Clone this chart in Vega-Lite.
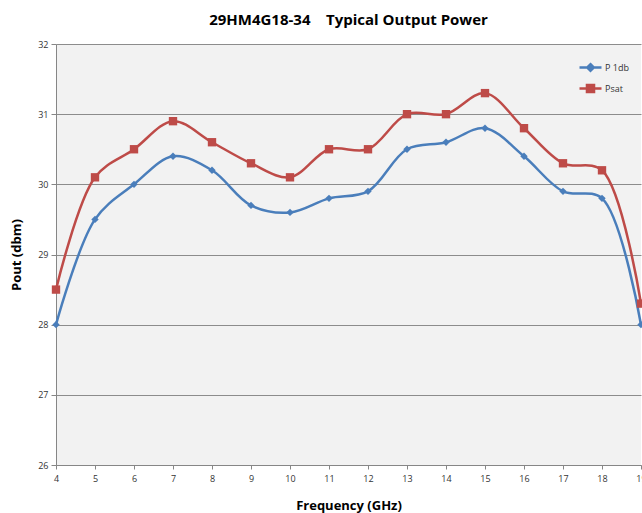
{
  "$schema": "https://vega.github.io/schema/vega-lite/v6.json",
  "autosize": "none",
  "width": 585,
  "height": 421,
  "padding": {"left": 56, "top": 44, "right": 1, "bottom": 48},
  "background": "white",
  "config": {
    "view": {"fill": "#F2F2F2", "stroke": null},
    "font": "Open Sans"
  },
  "title": {
    "text": "29HM4G18-34\u00a0\u00a0\u00a0\u00a0Typical Output Power",
    "font": "Open Sans",
    "fontSize": 15,
    "fontWeight": "bold",
    "color": "#000000",
    "anchor": "middle",
    "offset": 12
  },
  "data": {
    "values": [
      {"f": 4, "v": 28.0, "s": "P 1db"},
      {"f": 5, "v": 29.5, "s": "P 1db"},
      {"f": 6, "v": 30.0, "s": "P 1db"},
      {"f": 7, "v": 30.4, "s": "P 1db"},
      {"f": 8, "v": 30.2, "s": "P 1db"},
      {"f": 9, "v": 29.7, "s": "P 1db"},
      {"f": 10, "v": 29.6, "s": "P 1db"},
      {"f": 11, "v": 29.8, "s": "P 1db"},
      {"f": 12, "v": 29.9, "s": "P 1db"},
      {"f": 13, "v": 30.5, "s": "P 1db"},
      {"f": 14, "v": 30.6, "s": "P 1db"},
      {"f": 15, "v": 30.8, "s": "P 1db"},
      {"f": 16, "v": 30.4, "s": "P 1db"},
      {"f": 17, "v": 29.9, "s": "P 1db"},
      {"f": 18, "v": 29.8, "s": "P 1db"},
      {"f": 19, "v": 28.0, "s": "P 1db"},
      {"f": 4, "v": 28.5, "s": "Psat"},
      {"f": 5, "v": 30.1, "s": "Psat"},
      {"f": 6, "v": 30.5, "s": "Psat"},
      {"f": 7, "v": 30.9, "s": "Psat"},
      {"f": 8, "v": 30.6, "s": "Psat"},
      {"f": 9, "v": 30.3, "s": "Psat"},
      {"f": 10, "v": 30.1, "s": "Psat"},
      {"f": 11, "v": 30.5, "s": "Psat"},
      {"f": 12, "v": 30.5, "s": "Psat"},
      {"f": 13, "v": 31.0, "s": "Psat"},
      {"f": 14, "v": 31.0, "s": "Psat"},
      {"f": 15, "v": 31.3, "s": "Psat"},
      {"f": 16, "v": 30.8, "s": "Psat"},
      {"f": 17, "v": 30.3, "s": "Psat"},
      {"f": 18, "v": 30.2, "s": "Psat"},
      {"f": 19, "v": 28.3, "s": "Psat"}
    ]
  },
  "encoding": {
    "x": {
      "field": "f", "type": "quantitative",
      "scale": {"domain": [4, 19], "nice": false, "zero": false},
      "axis": {
        "title": "Frequency (GHz)",
        "values": [4,5,6,7,8,9,10,11,12,13,14,15,16,17,18,19],
        "grid": false,
        "domainColor": "#868686",
        "tickColor": "#868686",
        "tickSize": 4,
        "labelFontSize": 9,
        "labelColor": "#333333",
        "labelPadding": 5,
        "labelFlush": false,
        "titleFontSize": 13,
        "titleFontWeight": "bold",
        "titleColor": "#000000",
        "titlePadding": 16
      }
    },
    "y": {
      "field": "v", "type": "quantitative",
      "scale": {"domain": [26, 32], "nice": false, "zero": false},
      "axis": {
        "title": "Pout (dbm)",
        "values": [26,27,28,29,30,31,32],
        "grid": true,
        "gridColor": "#8C8C8C",
        "gridWidth": 1,
        "domainColor": "#868686",
        "tickColor": "#868686",
        "tickSize": 5,
        "labelFontSize": 9,
        "labelColor": "#333333",
        "labelPadding": 3,
        "titleFontSize": 13,
        "titleFontWeight": "bold",
        "titleColor": "#000000",
        "titlePadding": 14
      }
    },
    "color": {
      "field": "s", "type": "nominal",
      "scale": {"domain": ["P 1db", "Psat"], "range": ["#4A7EBB", "#BE4B48"]},
      "legend": {
        "title": null,
        "orient": "none",
        "legendX": 522,
        "legendY": 11,
        "symbolType": "M-1,0H1",
        "symbolSize": 484,
        "symbolStrokeWidth": 2.5,
        "labelFontSize": 9,
        "labelColor": "#333333",
        "labelOffset": 2,
        "rowPadding": 0,
        "encode": {
          "symbols": {
            "update": {
              "shape": {"signal": "datum.value === 'P 1db' ? 'M-1,0H1M0,-0.3L0.3,0L0,0.3L-0.3,0Z' : 'M-1,0H1M-0.32,-0.32H0.32V0.32H-0.32Z'"},
              "fill": {"signal": "datum.value === 'P 1db' ? '#4A7EBB' : '#BE4B48'"},
              "stroke": {"signal": "datum.value === 'P 1db' ? '#4A7EBB' : '#BE4B48'"},
              "strokeWidth": {"value": 2.5},
              "fillOpacity": {"value": 1},
              "strokeOpacity": {"value": 1},
              "opacity": {"value": 1}
            }
          }
        }
      }
    }
  },
  "layer": [
    {
      "mark": {"type": "line", "interpolate": "catmull-rom", "strokeWidth": 2.5}
    },
    {
      "transform": [{"filter": "datum.s === 'P 1db'"}],
      "mark": {"type": "point", "filled": true, "opacity": 1, "shape": "diamond", "size": 55}
    },
    {
      "transform": [{"filter": "datum.s === 'Psat'"}],
      "mark": {"type": "point", "filled": true, "opacity": 1, "shape": "square", "size": 70}
    }
  ]
}
